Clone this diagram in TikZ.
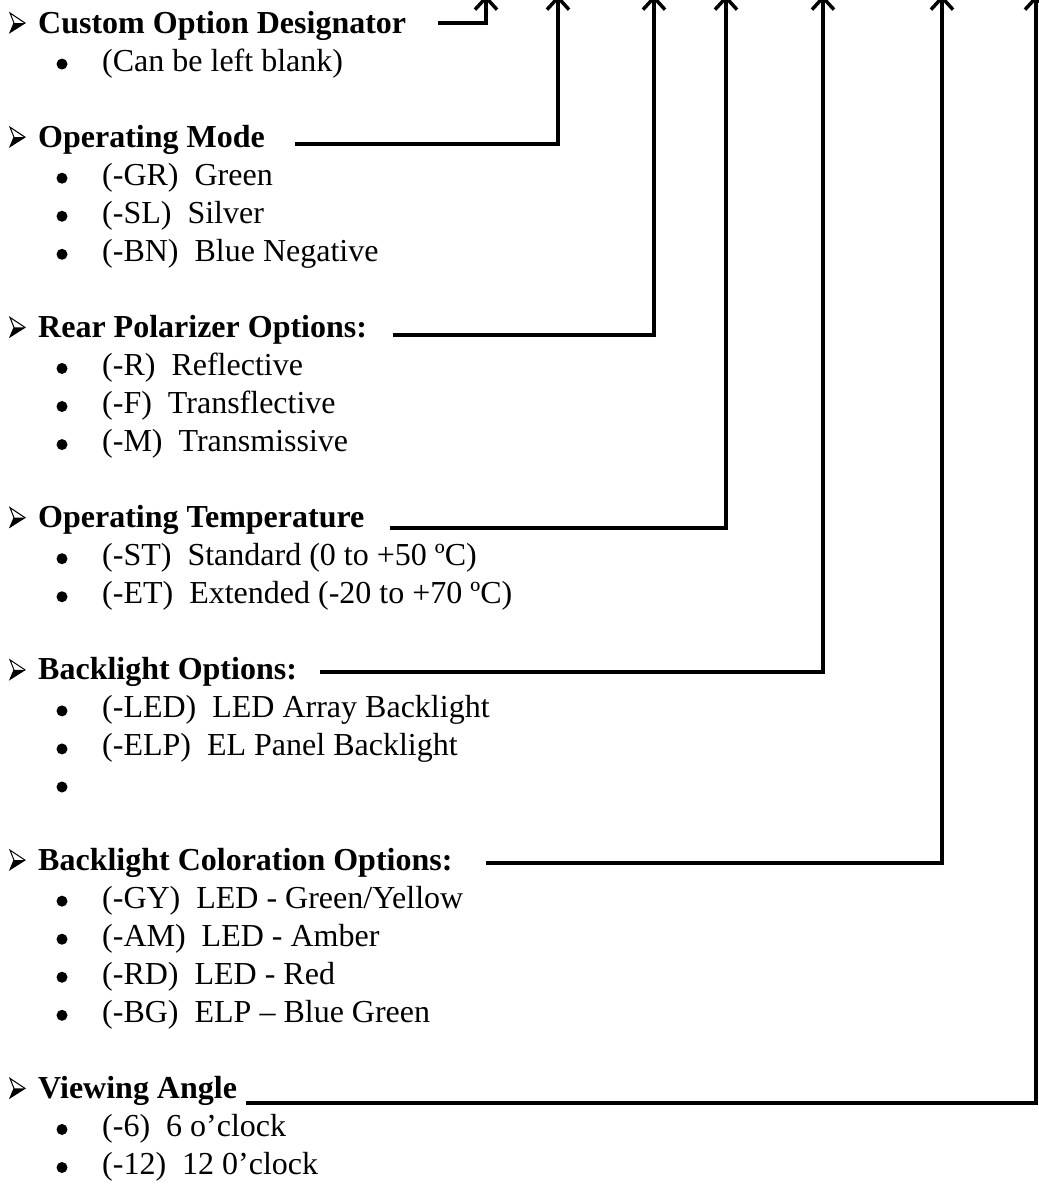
\documentclass[tikz,border=0pt]{standalone}
\usepackage{fontspec}
\setmainfont{Liberation Serif}
\usetikzlibrary{arrows.meta}
\begin{document}
\begin{tikzpicture}[x=1pt,y=-1pt,
  head/.style={anchor=base west, inner sep=0pt, font=\fontsize{32}{38}\selectfont\bfseries},
  item/.style={anchor=base west, inner sep=0pt, font=\fontsize{32}{38}\selectfont},
  conn/.style={line width=3.5pt, -{Straight Barb[length=12pt,width=22pt]}},
  hmark/.pic={
    \draw[line width=1pt, line join=miter] (10,-20) -- (25,-10) -- (10,-0.5) -- (14,-10) -- cycle;
    \fill (14,-10) -- (25,-10) -- (10,-0.5) -- cycle;
  },
  bul/.pic={\fill (62,-7) circle (5.5pt);}
]
\useasboundingbox (0,0) rectangle (1039,1187);
\clip (0,0) rectangle (1039,1187);

% headings
\foreach \b in {33,147.15,337.4,527.65,679.85,870.1,1098.4} {\pic at (0,\b) {hmark};}
\node[head] (h1) at (38,33) {Custom Option Designator};
\node[head] (h2) at (38,147.15) {Operating Mode};
\node[head] (h3) at (38,337.4) {Rear Polarizer Options:};
\node[head] (h4) at (38,527.65) {Operating Temperature};
\node[head] (h5) at (38,679.85) {Backlight Options:};
\node[head] (h6) at (38,870.1) {Backlight Coloration Options:};
\node[head] (h7) at (38,1098.4) {Viewing Angle};

% bullets
\foreach \b in {71.05,185.2,223.25,261.3,375.45,413.5,451.55,565.7,603.75,717.9,755.95,794,908.15,946.2,984.25,1022.3,1136.45,1174.5} {\pic at (0,\b) {bul};}

% items
\node[item] (a1) at (102,71.05) {(Can be left blank)};
\node[item] (b1) at (102,185.2) {(-GR)\ \ Green};
\node[item] (b2) at (102,223.25) {(-SL)\ \ Silver};
\node[item] (b3) at (102,261.3) {(-BN)\ \ Blue Negative};
\node[item] (c1) at (102,375.45) {(-R)\ \ Reflective};
\node[item] (c2) at (102,413.5) {(-F)\ \ Transflective};
\node[item] (c3) at (102,451.55) {(-M)\ \ Transmissive};
\node[item] (d1) at (102,565.7) {(-ST)\ \ Standard (0 to +50 ºC)};
\node[item] (d2) at (102,603.75) {(-ET)\ \ Extended (-20 to +70 ºC)};
\node[item] (e1) at (102,717.9) {(-LED)\ \ LED Array Backlight};
\node[item] (e2) at (102,755.95) {(-ELP)\ \ EL Panel Backlight};
\node[item] (f1) at (102,908.15) {(-GY)\ \ LED - Green/Yellow};
\node[item] (f2) at (102,946.2) {(-AM)\ \ LED - Amber};
\node[item] (f3) at (102,984.25) {(-RD)\ \ LED - Red};
\node[item] (f4) at (102,1022.3) {(-BG)\ \ ELP – Blue Green};
\node[item] (g1) at (102,1136.45) {(-6)\ \ 6 o’clock};
\node[item] (g2) at (102,1174.5) {(-12)\ \ 12 0’clock};

% connector ends
\coordinate (s1) at (438,23);   \coordinate (t1) at (486,-5);
\coordinate (s2) at (295,144);  \coordinate (t2) at (558,-5);
\coordinate (s3) at (393,335);  \coordinate (t3) at (654,-5);
\coordinate (s4) at (390,528);  \coordinate (t4) at (726,-5);
\coordinate (s5) at (320,672);  \coordinate (t5) at (823,-5);
\coordinate (s6) at (486,863);  \coordinate (t6) at (942,-5);
\coordinate (s7) at (246,1103); \coordinate (t7) at (1036,-5);

\foreach \i in {1,...,7} {\draw[conn] (s\i) -| (t\i);}
\end{tikzpicture}
\end{document}
